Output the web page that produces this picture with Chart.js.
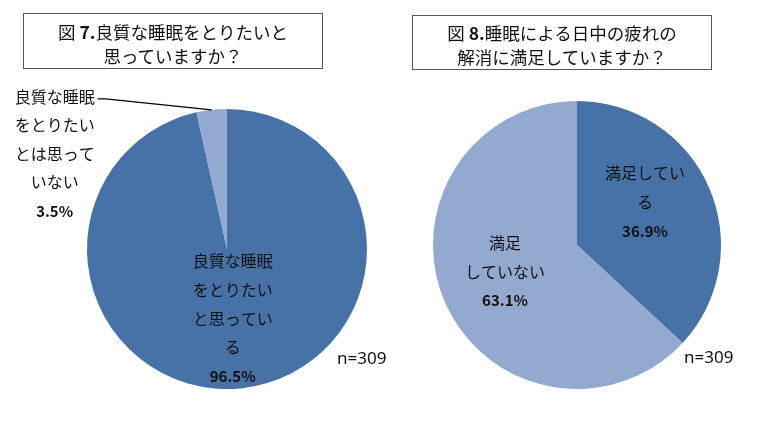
<!DOCTYPE html>
<html>
<head>
<meta charset="utf-8">
<script src="https://cdn.jsdelivr.net/npm/chart.js@4"></script>
<style>
  body { margin: 0; background: #fff; }
  #wrap { position: relative; width: 758px; height: 421px; overflow: hidden;
          font-family: "Noto Sans CJK JP", "Noto Sans", sans-serif; color: #111; }
  .ttl { position: absolute; box-sizing: border-box; width: 300px; height: 56px;
         border: 1px solid #555; text-align: center; font-size: 17.5px; line-height: 24px; padding-top: 6px; }
  .n { position: absolute; font-size: 17px; font-family: "Noto Sans", sans-serif; }
  canvas { position: absolute; top: 0; }
</style>
</head>
<body>
<div id="wrap">
  <canvas id="c7" width="379" height="421" style="left:0"></canvas>
  <canvas id="c8" width="379" height="421" style="left:379px"></canvas>
  <div class="ttl" style="left:23px;top:13px">図 <b>7.</b>良質な睡眠をとりたいと<br>思っていますか？</div>
  <div class="ttl" style="left:412px;top:15px;height:55px;padding-top:5px">図 <b>8.</b>睡眠による日中の疲れの<br>解消に満足していますか？</div>
  <div class="n" id="n7" style="left:337px;top:346px"></div>
  <div class="n" id="n8" style="left:684px;top:345px"></div>
</div>
<script>
// 図7
var fig7Labels = [['良質な睡眠', 'をとりたい', 'と思ってい', 'る'], ['良質な睡眠', 'をとりたい', 'とは思って', 'いない']];
var fig7Values = [96.5, 3.5];
// 図8
var fig8Labels = [['満足してい', 'る'], ['満足', 'していない']];
var fig8Values = [36.9, 63.1];
var sampleSize = 309;

var darkBlue = '#4672a8';
var lightBlue = '#93a9cf';

document.getElementById('n7').textContent = 'n=' + sampleSize;
document.getElementById('n8').textContent = 'n=' + sampleSize;

// ラベルを描くプラグイン (inside: 扇形の中, outside: 引き出し線つき)
var sliceLabels = {
  id: 'sliceLabels',
  afterDatasetsDraw: function (chart, args, opts) {
    var ctx = chart.ctx;
    var meta = chart.getDatasetMeta(0);
    var labels = chart.data.labels;
    var values = chart.data.datasets[0].data;
    ctx.save();
    ctx.fillStyle = '#111';
    ctx.textAlign = 'center';
    ctx.textBaseline = 'middle';
    meta.data.forEach(function (arc, i) {
      var lines = labels[i].concat([values[i].toFixed(1) + '%']);
      var st = opts.styles[i];
      var x, y;
      if (st.outside) {
        var p = arc.getProps(['x', 'y', 'startAngle', 'endAngle', 'outerRadius'], true);
        var mid = (p.startAngle + p.endAngle) / 2;
        var ex = p.x + p.outerRadius * Math.cos(mid);
        var ey = p.y + p.outerRadius * Math.sin(mid);
        x = ex + st.dx;
        y = ey + st.dy;
        ctx.strokeStyle = '#000';
        ctx.lineWidth = 1.2;
        ctx.beginPath();
        ctx.moveTo(x + 43, y + 2);
        ctx.lineTo(x + 51, y + 2);
        ctx.lineTo(ex, ey);
        ctx.stroke();
      } else {
        var c = arc.tooltipPosition();
        x = c.x + st.dx;
        y = c.y + st.dy - (lines.length - 1) * st.lh / 2;
      }
      lines.forEach(function (t, k) {
        var isNum = k === lines.length - 1;
        ctx.font = (isNum ? 'bold 15px' : '16px') + ' "Noto Sans CJK JP", sans-serif';
        ctx.fillText(t, x, y + k * st.lh);
      });
    });
    ctx.restore();
  }
};

function makePie(id, labels, values, colors, padding, styles) {
  var ctx = document.getElementById(id).getContext('2d');
  return new Chart(ctx, {
    type: 'pie',
    data: {
      labels: labels,
      datasets: [{
        data: values,
        backgroundColor: colors,
        borderWidth: 0
      }]
    },
    options: {
      responsive: false,
      animation: false,
      layout: { padding: padding },
      plugins: {
        legend: { display: false },
        tooltip: { enabled: false },
        sliceLabels: { styles: styles }
      }
    },
    plugins: [sliceLabels]
  });
}

makePie('c7', fig7Labels, fig7Values, [darkBlue, lightBlue],
  { left: 87, right: 12, top: 109, bottom: 32 },
  [{ dx: -2, dy: 0, lh: 28.8 }, { outside: true, dx: -157, dy: -13, lh: 28.5 }]);

makePie('c8', fig8Labels, fig8Values, [darkBlue, lightBlue],
  { left: 54, right: 37, top: 101, bottom: 32 },
  [{ dx: 2, dy: -14, lh: 29.5 }, { dx: -6, dy: -2, lh: 28.5 }]);
</script>
</body>
</html>
